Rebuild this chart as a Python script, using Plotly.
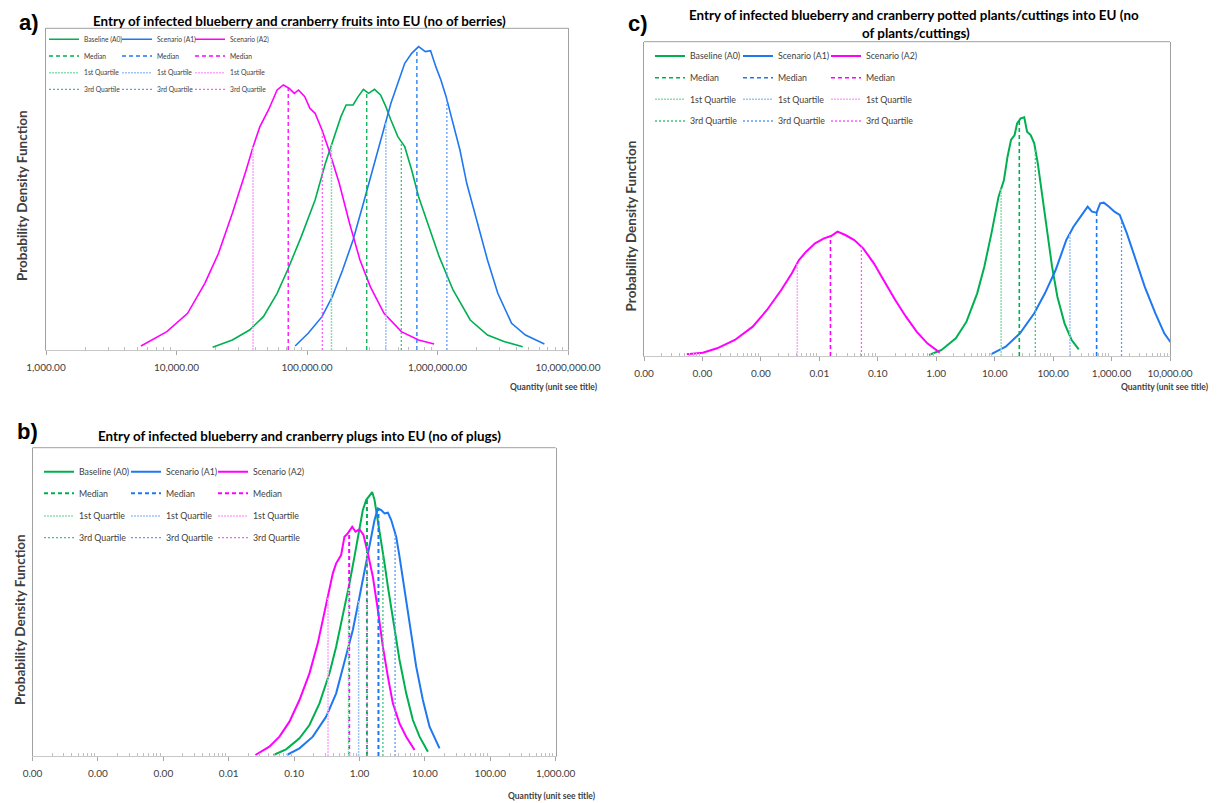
import numpy as np
import plotly.graph_objects as go

W, H = 1220, 803
FONT = "Lato"
PAGE_OFFSET = 8  # default page body margin in the rendered html

# ---------------- DATA ----------------
# Panel a) fruits (no of berries): log10(quantity) and PDF height (arbitrary units)
a_green_logq = [4.277, 4.428, 4.560, 4.666, 4.771, 4.851, 4.956, 5.062, 5.141, 5.207, 5.260, 5.300, 5.353, 5.392, 5.432,
                5.472, 5.517, 5.564, 5.604, 5.643, 5.696, 5.749, 5.802, 5.855, 5.934, 6.013, 6.119, 6.251, 6.383, 6.515, 6.653]
a_green_pdf = [8, 30, 60, 100, 170, 240, 340, 450, 560, 640, 700, 735, 735, 760, 782,
               770, 782, 765, 730, 690, 640, 610, 540, 460, 370, 280, 180, 90, 45, 25, 10]
a_blue_logq = [4.909, 5.009, 5.115, 5.194, 5.273, 5.353, 5.432, 5.511, 5.590, 5.643, 5.696, 5.749, 5.802, 5.855,
               5.907, 5.947, 5.987, 6.026, 6.066, 6.119, 6.172, 6.224, 6.304, 6.383, 6.462, 6.568, 6.674, 6.819]
a_blue_pdf = [12, 50, 100, 160, 240, 330, 440, 550, 660, 740, 800, 860, 890, 910,
              895, 898, 850, 810, 760, 680, 600, 500, 380, 270, 170, 80, 45, 18]
a_mag_logq = [3.728, 3.926, 4.085, 4.217, 4.322, 4.428, 4.534, 4.587, 4.639, 4.705, 4.771, 4.819, 4.864, 4.903,
              4.935, 4.983, 5.022, 5.062, 5.115, 5.168, 5.247, 5.326, 5.406, 5.485, 5.590, 5.723, 5.855, 5.974]
a_mag_pdf = [12, 55, 110, 200, 290, 410, 540, 610, 670, 720, 780, 795, 785, 770,
             780, 760, 725, 710, 660, 600, 500, 380, 270, 190, 110, 55, 30, 18]
# quartiles [Q1, median, Q3]
a_green_q = [154000, 287000, 528000]
a_blue_q = [402000, 695000, 1180000]
a_mag_q = [38600, 71800, 131000]
a_ticktext = ["1,000.00", "10,000.00", "100,000.00", "1,000,000.00", "10,000,000.00"]

# Panel c) potted plants/cuttings
c_green_logq = [-0.122, 0.091, 0.335, 0.518, 0.701, 0.823, 0.945, 1.067, 1.159, 1.220, 1.280, 1.341, 1.384,
                1.445, 1.506, 1.555, 1.616, 1.677, 1.738, 1.799, 1.890, 1.982, 2.073, 2.195, 2.317, 2.439]
c_green_pdf = [3, 18, 53, 103, 188, 268, 368, 478, 528, 598, 648, 663, 698,
               713, 716, 673, 663, 638, 578, 498, 378, 268, 178, 98, 48, 20]
c_blue_logq = [0.933, 1.189, 1.433, 1.677, 1.860, 2.043, 2.226, 2.348, 2.470, 2.591, 2.665, 2.744, 2.805,
               2.866, 2.957, 3.049, 3.140, 3.262, 3.415, 3.567, 3.750, 3.902, 4.024]
c_blue_pdf = [5, 28, 68, 128, 188, 258, 348, 388, 418, 448, 433, 430, 458,
              460, 448, 433, 423, 368, 288, 208, 128, 68, 38]
c_mag_logq = [-4.268, -3.994, -3.750, -3.445, -3.140, -2.896, -2.652, -2.470, -2.348, -2.226, -2.073, -1.921,
              -1.799, -1.689, -1.555, -1.402, -1.250, -1.067, -0.884, -0.701, -0.518, -0.335, -0.152, 0.061]
c_mag_pdf = [5, 10, 23, 48, 88, 138, 198, 248, 288, 313, 338, 353,
             360, 373, 363, 348, 323, 278, 223, 168, 118, 73, 38, 10]
c_green_q = [12.9, 26.4, 49.6]
c_blue_q = [194, 555, 1482]
c_mag_q = [0.0042, 0.0155, 0.0525]
c_ticktext = ["0.00", "0.00", "0.00", "0.01", "0.10", "1.00", "10.00", "100.00", "1,000.00", "10,000.00"]

# Panel b) plugs
b_green_logq = [-1.316, -1.122, -0.918, -0.765, -0.612, -0.459, -0.357, -0.255, -0.153, -0.077, 0.0, 0.051, 0.102,
                0.153, 0.194, 0.230, 0.281, 0.332, 0.383, 0.434, 0.510, 0.612, 0.714, 0.816, 0.918, 1.046]
b_green_pdf = [3, 20, 53, 93, 158, 248, 328, 418, 518, 598, 678, 738, 768,
               780, 792, 768, 708, 638, 578, 508, 408, 288, 188, 108, 58, 13]
b_blue_logq = [-1.112, -0.918, -0.714, -0.510, -0.357, -0.204, -0.102, 0.0, 0.102, 0.179, 0.230, 0.281,
               0.332, 0.383, 0.434, 0.485, 0.561, 0.612, 0.689, 0.765, 0.867, 0.969, 1.071, 1.224]
b_blue_pdf = [3, 23, 58, 118, 188, 298, 378, 478, 578, 658, 708, 743,
              738, 728, 730, 708, 658, 598, 498, 388, 268, 168, 88, 23]
b_mag_logq = [-1.592, -1.378, -1.224, -1.071, -0.918, -0.765, -0.638, -0.536, -0.459, -0.408, -0.357, -0.281,
              -0.230, -0.179, -0.112, -0.061, 0.0, 0.061, 0.128, 0.204, 0.281, 0.357, 0.434, 0.510, 0.612, 0.714, 0.842]
b_mag_pdf = [3, 28, 58, 103, 168, 248, 338, 428, 498, 548, 578, 603,
             658, 668, 688, 673, 680, 663, 608, 538, 438, 328, 238, 158, 98, 58, 18]
b_green_q = [0.68, 1.30, 2.28]
b_blue_q = [0.97, 1.95, 3.5]
b_mag_q = [0.33, 0.695, 1.31]
b_ticktext = ["0.00", "0.00", "0.00", "0.01", "0.10", "1.00", "10.00", "100.00", "1,000.00"]

series_names = ["Baseline (A0)", "Scenario (A1)", "Scenario (A2)"]

# ---------------- STYLE ----------------
COLORS = ["#00B050", "#1F78F0", "#FF00FF"]
PALE = ["#8ADFAE", "#9CC4F9", "#FFA6FF"]
MID = ["#40C47F", "#5C9DF5", "#FF5CFF"]
TXT = "#404040"


def px_x(x):
    return (x - PAGE_OFFSET) / W


def px_y(y):
    return 1 - (y - PAGE_OFFSET) / H


fig = go.Figure()

panels = [
    dict(key="a", ax="", curves=[(a_green_logq, a_green_pdf), (a_blue_logq, a_blue_pdf), (a_mag_logq, a_mag_pdf)],
         quarts=[a_green_q, a_blue_q, a_mag_q], xr=(3, 7), tt=a_ticktext, ytop=965,
         dom=(46, 568, 28.3, 350), leg_rows=(39.3, 56.0, 72.7, 89.3), leg_x=44, entry=28, lfont=6.7,
         lw=1.6, mw=1.3),
    dict(key="c", ax="2", curves=[(c_green_logq, c_green_pdf), (c_blue_logq, c_blue_pdf), (c_mag_logq, c_mag_pdf)],
         quarts=[c_green_q, c_blue_q, c_mag_q], xr=(-5, 4), tt=c_ticktext, ytop=943,
         dom=(644, 1170, 41.7, 356), leg_rows=(56.0, 77.7, 99.3, 121.0), leg_x=650, entry=43, lfont=8.8,
         lw=2.0, mw=1.6),
    dict(key="b", ax="3", curves=[(b_green_logq, b_green_pdf), (b_blue_logq, b_blue_pdf), (b_mag_logq, b_mag_pdf)],
         quarts=[b_green_q, b_blue_q, b_mag_q], xr=(-5, 3), tt=b_ticktext, ytop=925,
         dom=(32.5, 555.7, 447.7, 756), leg_rows=(471.7, 493.3, 516.0, 537.7), leg_x=39, entry=42, lfont=8.8,
         lw=2.0, mw=2.0),
]

legend_layouts = {}
shapes = []
li = 0
for p in panels:
    xa = "x" + p["ax"]
    ya = "y" + p["ax"]
    legnames = []
    for r in range(4):
        li += 1
        name = "legend" if li == 1 else f"legend{li}"
        legnames.append(name)
        legend_layouts[name] = dict(
            x=px_x(p["leg_x"]), y=px_y(p["leg_rows"][r]), xanchor="left", yanchor="middle",
            orientation="h", entrywidth=p["entry"], entrywidthmode="pixels", itemwidth=30,
            font=dict(family=FONT, size=p["lfont"], color=TXT), bgcolor="rgba(0,0,0,0)",
            borderwidth=0, tracegroupgap=0, traceorder="normal")
    # main curves
    for i, (lq, pdf) in enumerate(p["curves"]):
        fig.add_trace(go.Scatter(
            x=10 ** np.array(lq), y=pdf, mode="lines", name=series_names[i],
            line=dict(color=COLORS[i], width=p["lw"]), xaxis=xa, yaxis=ya, legend=legnames[0]))
    # median, Q1, Q3 lines
    specs = [(1, "Median", legnames[1]), (0, "1st Quartile", legnames[2]), (2, "3rd Quartile", legnames[3])]
    for qi, label, lg in specs:
        for i, (lq, pdf) in enumerate(p["curves"]):
            qv = p["quarts"][i][qi]
            top = float(np.interp(np.log10(qv), lq, pdf))
            if qi == 1:
                line = dict(color=COLORS[i], width=p["mw"], dash="4px,3px")
            elif qi == 0:
                line = dict(color=PALE[i], width=1.5, dash="2px,1px")
            else:
                line = dict(color=MID[i], width=1.3, dash="2px,2px")
            fig.add_trace(go.Scatter(
                x=[qv, qv], y=[0, top], mode="lines", name=label, line=line,
                xaxis=xa, yaxis=ya, legend=lg))
    # invisible trailing legend slot so the last legend text is not clipped
    for lg in legnames:
        fig.add_trace(go.Scatter(x=[None], y=[None], mode="lines", name=" ",
                                 line=dict(color="rgba(0,0,0,0)"), xaxis=xa, yaxis=ya,
                                 legend=lg, hoverinfo="skip"))

    x0, x1, y0, y1 = p["dom"]
    lo, hi = p["xr"]
    tickvals = [10.0 ** k for k in range(lo, hi + 1)]
    minorvals = [m * 10.0 ** k for k in range(lo, hi) for m in range(2, 10)]
    fig.update_layout(**{
        "xaxis" + p["ax"]: dict(
            type="log", domain=[px_x(x0), px_x(x1)], anchor=ya, range=[lo, hi],
            tickmode="array", tickvals=tickvals, ticktext=p["tt"], ticks="outside", ticklen=4,
            tickcolor="#A6A6A6", showline=True, linecolor="#C8C8C8", linewidth=1, mirror=False,
            showgrid=False, zeroline=False, ticklabelstandoff=4, automargin=False,
            tickfont=dict(family=FONT, size=10, color=TXT),
            minor=dict(tickmode="array", tickvals=minorvals, ticks="inside", ticklen=3,
                       tickcolor="#BFBFBF", showgrid=False)),
        "yaxis" + p["ax"]: dict(
            domain=[px_y(y1), px_y(y0)], anchor=xa, range=[0, p["ytop"]], showticklabels=False,
            ticks="", showline=True, linecolor="#A0A0A0", linewidth=1, mirror=True,
            showgrid=False, zeroline=False, automargin=False),
    })
    shapes.append(dict(type="line", xref=xa + " domain", yref=ya + " domain", x0=0, x1=1, y0=1, y1=1,
                       line=dict(color="#A0A0A0", width=1)))

fig.update_layout(**legend_layouts)

ann = []


def add_text(text, x, y, size, bold=False, family=FONT, xanchor="center", angle=0, color=TXT):
    ann.append(dict(text=f"<b>{text}</b>" if bold else text, x=px_x(x), y=px_y(y), xref="paper", yref="paper",
                    xanchor=xanchor, yanchor="middle", showarrow=False, textangle=angle,
                    font=dict(family=family, size=size, color=color)))


# panel letters
add_text("a)", 29, 22.7, 22, bold=True, family="Liberation Sans", color="#000000")
add_text("b)", 27.5, 431.7, 22, bold=True, family="Liberation Sans", color="#000000")
add_text("c)", 638, 24, 22, bold=True, family="Liberation Sans", color="#000000")
# titles
add_text("Entry of infected blueberry and cranberry fruits into EU (no of berries)", 299.6, 20.7, 13.4, bold=True,
         color="#000000")
add_text("Entry of infected blueberry and cranberry plugs into EU (no of plugs)", 299.5, 436, 13.4, bold=True,
         color="#000000")
add_text("Entry of infected blueberry and cranberry potted plants/cuttings into EU (no", 914, 15, 13.4, bold=True,
         color="#000000")
add_text("of plants/cuttings)", 915.6, 33.3, 13.4, bold=True, color="#000000")
# y titles
add_text("Probability Density Function", 22, 196, 13.5, bold=True, angle=-90)
add_text("Probability Density Function", 630.7, 225.7, 13.5, bold=True, angle=-90)
add_text("Probability Density Function", 20, 620, 13.5, bold=True, angle=-90)
# x titles
add_text("Quantity (unit see title)", 554, 387, 8.5, bold=True)
add_text("Quantity (unit see title)", 1119, 386.7, 8.5, bold=True, xanchor="left")
add_text("Quantity (unit see title)", 552, 796, 8.5, bold=True)

fig.update_layout(
    width=W, height=H, margin=dict(l=0, r=0, t=0, b=0, autoexpand=False),
    paper_bgcolor="white", plot_bgcolor="white",
    annotations=ann, shapes=shapes, showlegend=True,
    font=dict(family=FONT, color=TXT),
)

fig.write_html("out.html")
